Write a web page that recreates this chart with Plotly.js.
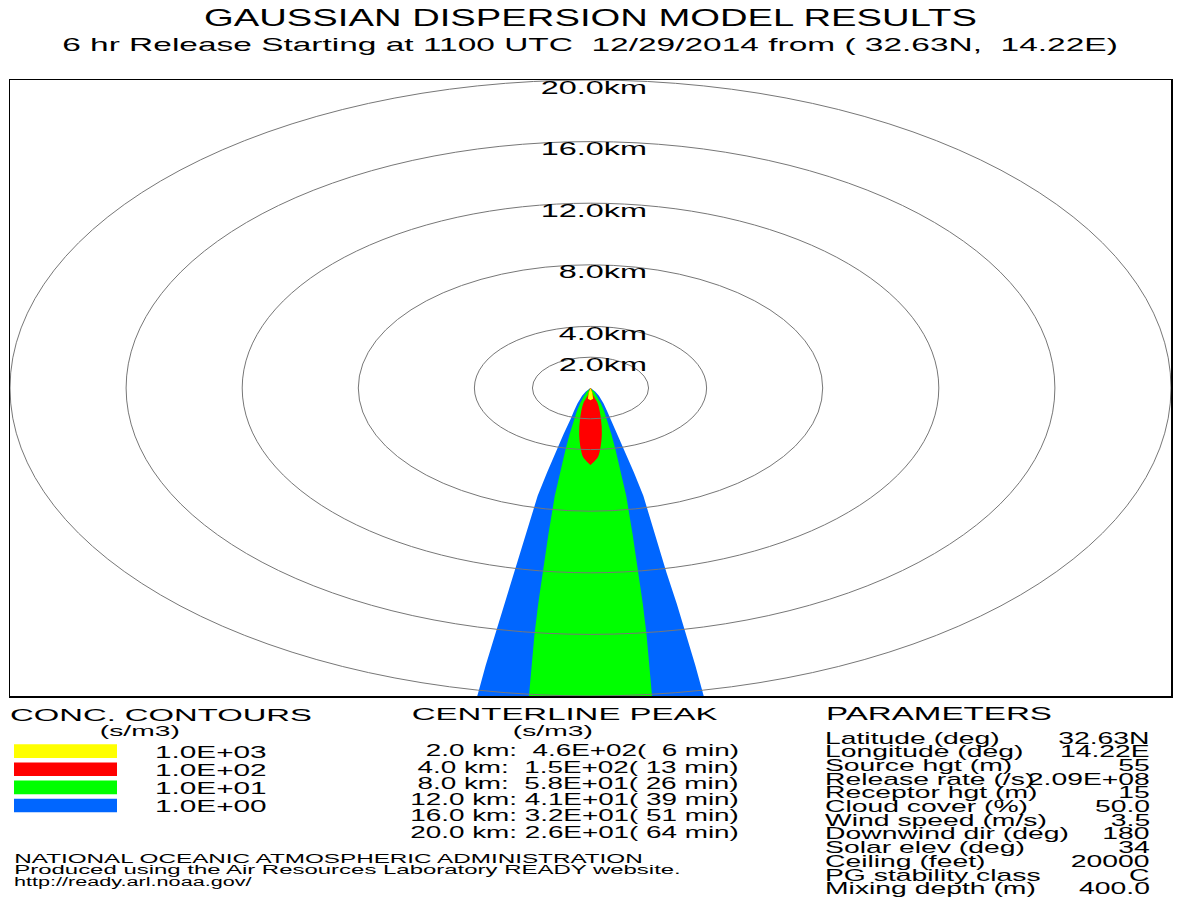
<!DOCTYPE html>
<html><head><meta charset="utf-8">
<script src="https://cdn.plot.ly/plotly-3.0.1.min.js"></script>
<style>html,body{margin:0;padding:0;background:#fff;} #chart{width:1177px;height:901px;}</style>
</head><body><div id="chart"></div>
<script>
// ---------------- data ----------------
const ringRadiiKm = [2, 4, 8, 12, 16, 20];
const ringLabels = ['2.0km', '4.0km', '8.0km', '12.0km', '16.0km', '20.0km'];

const plumeDistKm = [0, 0.25, 0.5, 1, 1.5, 2, 3, 4, 5.5, 7, 9.5, 12, 14, 16, 18, 20];
const blueHalfKm  = [0, 0.17, 0.29, 0.45, 0.57, 0.68, 0.93, 1.16, 1.50, 1.82, 2.23, 2.62, 2.97, 3.30, 3.61, 3.90];
const greenHalfKm = [0, 0.13, 0.22, 0.36, 0.47, 0.56, 0.72, 0.86, 1.05, 1.23, 1.45, 1.65, 1.80, 1.93, 2.03, 2.12];
const redDistKm   = [0, 0.5, 1, 2, 3, 4, 4.5, 5];
const redHalfKm   = [0, 0.10, 0.25, 0.36, 0.39, 0.33, 0.25, 0];
const yellowDistKm = [0, 0.3, 0.7, 0.8];
const yellowHalfKm = [0, 0.06, 0.09, 0];

const contourLevels = ['1.0E+03', '1.0E+02', '1.0E+01', '1.0E+00'];
const contourColors = ['#ffff00', '#ff0000', '#00ff00', '#0066ff'];

const peakDistKm = [2, 4, 8, 12, 16, 20];
const peakConc = ['4.6E+02', '1.5E+02', '5.8E+01', '4.1E+01', '3.2E+01', '2.6E+01'];
const peakMinutes = [6, 13, 26, 39, 51, 64];

const paramNames = ['Latitude (deg)', 'Longitude (deg)', 'Source hgt (m)', 'Release rate (/s)',
  'Receptor hgt (m)', 'Cloud cover (%)', 'Wind speed (m/s)', 'Downwind dir (deg)',
  'Solar elev (deg)', 'Ceiling (feet)', 'PG stability class', 'Mixing depth (m)'];
const paramValues = ['32.63N', '14.22E', '55', '2.09E+08', '15', '50.0', '3.5', '180',
  '34', '20000', 'C', '400.0'];

const titleText = 'GAUSSIAN DISPERSION MODEL RESULTS';
const subtitleText = '6 hr Release Starting at 1100 UTC  12/29/2014 from ( 32.63N,  14.22E)';
const creditLines = ['NATIONAL OCEANIC ATMOSPHERIC ADMINISTRATION',
  'Produced using the Air Resources Laboratory READY website.',
  'http://ready.arl.noaa.gov/'];

// ---------------- layout helpers ----------------
const FONT = '"Liberation Sans", Arial, Helvetica, sans-serif';
const PL = 10, PR = 1171, PT = 80, PB = 696;
const px = x => (x - PL) / (PR - PL);
const py = y => (PB - y) / (PB - PT);

const annotations = [];
const spec = [];
function addText(text, x, y, size, anchor, opt) {
  opt = opt || {};
  annotations.push({
    text: text.replace(/ {2}/g, ' \u00a0'),
    xref: opt.xref || 'paper', yref: opt.yref || 'paper',
    x: x, y: y, xanchor: anchor, yanchor: 'middle', showarrow: false,
    font: {family: FONT, size: size, color: '#000'},
    xshift: opt.xshift || 0, yshift: opt.yshift || 0,
    borderpad: 0
  });
  spec.push({anchor: anchor, sx: opt.sx, tw: opt.tw});
}

// ---------------- traces ----------------
function polygon(dist, half) {
  const x = [], y = [];
  dist.forEach((d, i) => { x.push(-half[i]); y.push(-d); });
  for (let i = dist.length - 1; i >= 0; i--) { x.push(half[i]); y.push(-dist[i]); }
  return {x, y};
}
function areaTrace(poly, color, shape) {
  return {type: 'scatter', mode: 'lines', x: poly.x, y: poly.y, fill: 'toself',
    fillcolor: color, line: {width: 0, shape: shape, smoothing: 1, color: color},
    hoverinfo: 'skip', showlegend: false};
}
const traces = [
  areaTrace(polygon(plumeDistKm, blueHalfKm), contourColors[3], 'linear'),
  areaTrace(polygon(plumeDistKm, greenHalfKm), contourColors[2], 'linear'),
  areaTrace(polygon(redDistKm, redHalfKm), contourColors[1], 'spline'),
  areaTrace(polygon(yellowDistKm, yellowHalfKm), contourColors[0], 'linear')
];

// ---------------- shapes ----------------
const shapes = ringRadiiKm.map(r => ({type: 'circle', xref: 'x', yref: 'y',
  x0: -r, x1: r, y0: -r, y1: r, layer: 'above', line: {color: '#777777', width: 1}}));
contourColors.forEach((c, i) => {
  const top = 744.3 + i * 18.15;
  shapes.push({type: 'rect', xref: 'paper', yref: 'paper', x0: px(14), x1: px(117),
    y0: py(top + 13.6), y1: py(top), fillcolor: c, line: {width: 0}});
  addText(contourLevels[i], px(154), py(top + 7.8), 16, 'left', {sx: 1.86});
});

// ring labels
ringRadiiKm.forEach((r, i) => addText(ringLabels[i], 0, r, 18, 'right',
  {xref: 'x', yref: 'y', xshift: 57, yshift: -7.5, sx: 1.8}));

// headers
addText(subtitleText, px(590), py(45), 18, 'center', {tw: 1056});
addText('CONC. CONTOURS', px(9), py(715), 17, 'left', {tw: 302});
addText('(s/m3)', px(140), py(731), 14, 'center', {tw: 80});
addText('CENTERLINE PEAK', px(565), py(714), 17, 'center', {tw: 307});
addText('(s/m3)', px(553), py(731), 14, 'center', {tw: 80});
addText('PARAMETERS', px(825), py(714), 17.5, 'left', {tw: 226});

// centerline peak rows
peakDistKm.forEach((d, i) => {
  const m = peakMinutes[i];
  const row = d.toFixed(1) + ' km:' + (d < 10 ? '  ' : ' ') + peakConc[i] + '(' +
    (m < 10 ? '  ' : ' ') + m + ' min)';
  addText(row, px(740), py(751 + i * 16.2), 16, 'right', {sx: 1.74});
});

// parameters
paramNames.forEach((n, i) => {
  const y = py(738 + i * 13.7);
  addText(n, px(824), y, 16, 'left', {sx: 1.77});
  addText(paramValues[i], px(1150.5), y, 16, 'right', {sx: 1.77});
});

// credits
const creditY = [858.5, 869.5, 881.5];
const creditW = [629, 667, 238];
creditLines.forEach((t, i) => addText(t, px(13), py(creditY[i]), 13.5, 'left', {tw: creditW[i]}));

const axis = {range: [-20, 20], showgrid: false, zeroline: false, showticklabels: false,
  ticks: '', showline: true, mirror: true, linecolor: '#000', linewidth: 1.5, fixedrange: true};

const layout = {
  width: 1177, height: 901,
  margin: {l: PL, r: 1177 - PR, t: PT, b: 901 - PB, pad: 0},
  paper_bgcolor: '#fff', plot_bgcolor: '#fff',
  showlegend: false,
  title: {text: titleText, font: {family: FONT, size: 24, color: '#000'},
    xref: 'paper', x: 0.5, xanchor: 'center', yref: 'container', y: 1 - 17.5 / 901, yanchor: 'middle'},
  xaxis: Object.assign({}, axis),
  yaxis: Object.assign({}, axis),
  shapes: shapes,
  annotations: annotations
};

function stretch(el, s) {
  const bb = el.getBBox();
  if (!bb.width) return;
  const sx = s.tw ? s.tw / bb.width : (s.sx || 1);
  const ox = s.anchor === 'left' ? bb.x : (s.anchor === 'right' ? bb.x + bb.width : bb.x + bb.width / 2);
  const prev = el.getAttribute('transform') || '';
  el.setAttribute('transform', 'translate(' + ox + ' 0) scale(' + sx + ' 1) translate(' + (-ox) + ' 0) ' + prev);
}

Plotly.newPlot('chart', traces, layout, {displayModeBar: false, staticPlot: true}).then(() => {
  document.querySelectorAll('#chart g.annotation').forEach(g => {
    const i = +g.getAttribute('data-index');
    const t = g.querySelector('text.annotation-text');
    if (t && spec[i]) stretch(t, spec[i]);
  });
  const tt = document.querySelector('#chart .gtitle');
  if (tt) stretch(tt, {anchor: 'center', tw: 773});
});
</script>
</body></html>
